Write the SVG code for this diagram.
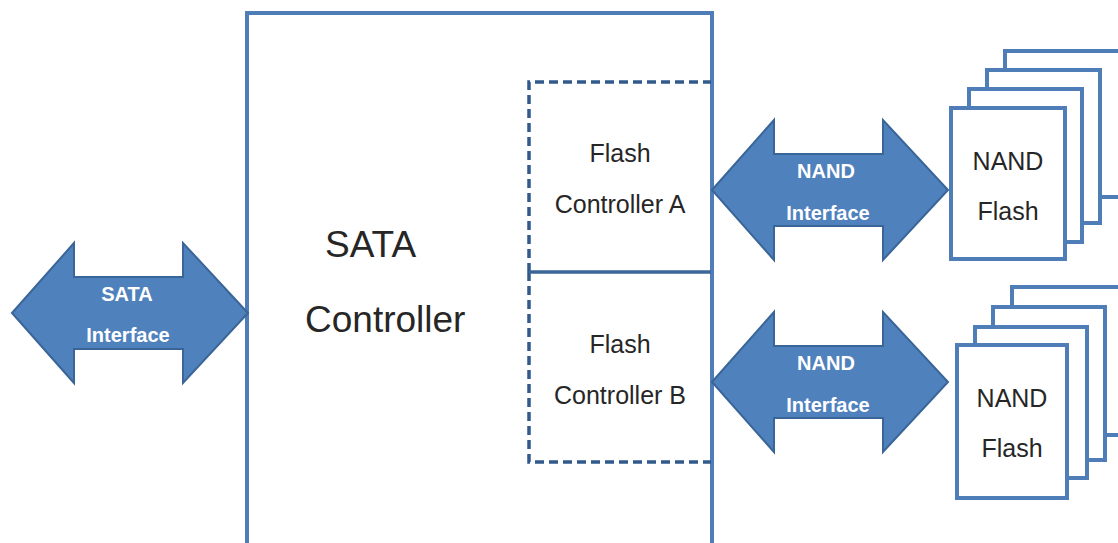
<svg xmlns="http://www.w3.org/2000/svg" width="1118" height="543" viewBox="0 0 1118 543">
  <style>
    .box { fill: #ffffff; stroke: #4f7db8; stroke-width: 4; }
    .dash { fill: none; stroke: #31598c; stroke-width: 3.5; stroke-dasharray: 9 5; }
    .divider { stroke: #3a6598; stroke-width: 3.5; }
    .arrow { fill: #4f81bd; stroke: #3a6598; stroke-width: 2; stroke-linejoin: miter; }
    .label { font-family: "Liberation Sans", Arial, sans-serif; fill: #262626; }
    .alabel { font-family: "Liberation Sans", Arial, sans-serif; font-weight: bold; fill: #ffffff; font-size: 20px; text-anchor: middle; }
  </style>
  <defs>
    <!-- double-headed block arrow, centred on origin -->
    <path id="dblArrow" d="M -118 0 L -56 -70 L -56 -36 L 53 -36 L 53 -70 L 118 0 L 53 70 L 53 36 L -56 36 L -56 70 Z"/>
  </defs>

  <rect width="1118" height="543" fill="#ffffff"/>

  <!-- SATA controller block -->
  <g id="sata-controller">
    <rect class="box" x="247" y="13" width="465" height="540"/>
    <text class="label" x="325" y="257" font-size="37">SATA</text>
    <text class="label" x="305" y="332" font-size="37">Controller</text>
  </g>

  <!-- Flash controllers inside the SATA controller -->
  <g id="flash-controller-a">
    <path class="dash" d="M 529 272 L 529 82 L 711 82"/>
    <text class="label" x="620" y="162" font-size="25" text-anchor="middle">Flash</text>
    <text class="label" x="620" y="213" font-size="25" text-anchor="middle">Controller A</text>
  </g>
  <g id="flash-controller-b">
    <path class="dash" d="M 529 272 L 529 462 L 711 462"/>
    <text class="label" x="620" y="353" font-size="25" text-anchor="middle">Flash</text>
    <text class="label" x="620" y="404" font-size="25" text-anchor="middle">Controller B</text>
  </g>
  <line class="divider" x1="529" y1="272" x2="711" y2="272"/>

  <!-- NAND flash stacks -->
  <g id="nand-flash-a">
    <rect class="box" x="1005" y="51" width="120" height="146"/>
    <rect class="box" x="987" y="70" width="113" height="153"/>
    <rect class="box" x="969" y="89" width="113" height="153"/>
    <rect class="box" x="951" y="108" width="114" height="151"/>
    <text class="label" x="1008" y="170" font-size="25" text-anchor="middle">NAND</text>
    <text class="label" x="1008" y="220" font-size="25" text-anchor="middle">Flash</text>
  </g>
  <g id="nand-flash-b">
    <rect class="box" x="1012" y="287" width="120" height="148"/>
    <rect class="box" x="993" y="307" width="112" height="153"/>
    <rect class="box" x="975" y="327" width="112" height="151"/>
    <rect class="box" x="957" y="345" width="110" height="153"/>
    <text class="label" x="1012" y="407" font-size="25" text-anchor="middle">NAND</text>
    <text class="label" x="1012" y="457" font-size="25" text-anchor="middle">Flash</text>
  </g>

  <!-- interface connectors -->
  <g id="connectors">
    <g id="sata-interface">
      <use href="#dblArrow" class="arrow" transform="translate(130 313)"/>
      <text class="alabel" x="127" y="301">SATA</text>
      <text class="alabel" x="128" y="342">Interface</text>
    </g>
    <g id="nand-interface-a">
      <use href="#dblArrow" class="arrow" transform="translate(830 190)"/>
      <text class="alabel" x="826" y="178">NAND</text>
      <text class="alabel" x="828" y="220">Interface</text>
    </g>
    <g id="nand-interface-b">
      <use href="#dblArrow" class="arrow" transform="translate(830 382)"/>
      <text class="alabel" x="826" y="370">NAND</text>
      <text class="alabel" x="828" y="412">Interface</text>
    </g>
  </g>
</svg>
